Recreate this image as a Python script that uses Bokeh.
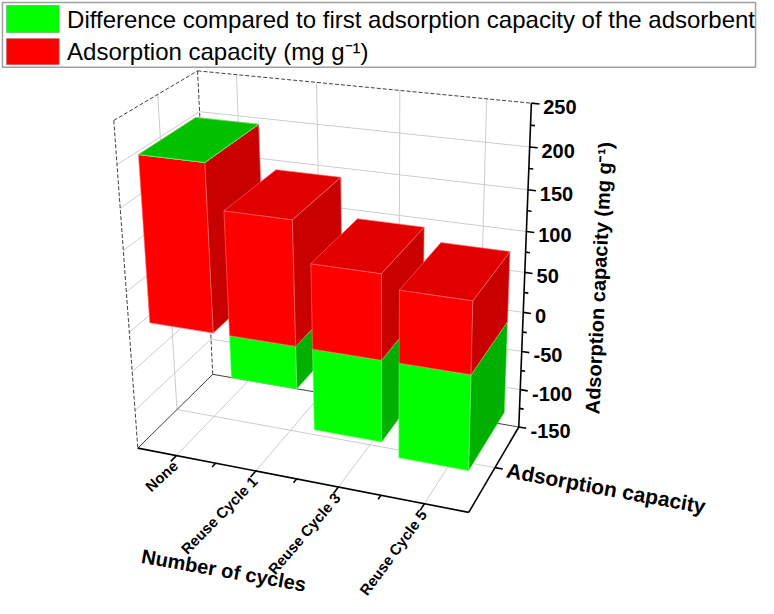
import numpy as np
from bokeh.plotting import figure
from bokeh.models import Range1d
from bokeh.core.properties import value
from bokeh.embed import file_html
from bokeh.resources import INLINE

# ---------------- data ----------------
categories = ["None", "Reuse Cycle 1", "Reuse Cycle 3", "Reuse Cycle 5"]
capacity = [203, 150, 102, 86]            # Adsorption capacity (mg g-1)
difference = [0, -53, -101, -117]         # Difference compared to first adsorption capacity
depth_category = ["Adsorption capacity"]
z_ticks = [-150, -100, -50, 0, 50, 100, 150, 200, 250]
series_names = ["Difference compared to first adsorption capacity of the adsorbent",
                "Adsorption capacity (mg g\u207b\u00b9)"]
x_title = "Number of cycles"
z_title = "Adsorption capacity (mg g\u207b\u00b9)"

# ---------------- 3D frame / camera (layout) ----------------
Z_MIN, Z_MAX = -150, 250
X_MIN, X_MAX = 0.5, len(categories) + 0.5
Y_MIN, Y_MAX = 0.0, 1.0
BAR_W = 0.8
BAR_Y0, BAR_Y1 = 0.15, 0.85

# where the corners of the 3D box land on the page (used to calibrate a perspective camera)
anchors = [
    ((X_MIN, Y_MIN, Z_MIN), (140, 460)),
    ((X_MAX, Y_MIN, Z_MIN), (478, 525)),
    ((X_MAX, Y_MAX, Z_MIN), (530, 437)),
    ((X_MIN, Y_MAX, Z_MIN), (217, 383)),
    ((X_MIN, Y_MIN, Z_MAX), (117, 122)),
    ((X_MIN, Y_MAX, Z_MAX), (200, 73)),
    ((X_MAX, Y_MAX, Z_MAX), (542, 105)),
    ((X_MAX, Y_MAX, 0), (534, 322)),
    ((1, Y_MIN, Z_MIN), (180, 468)),
    ((2, Y_MIN, Z_MIN), (260, 483)),
    ((3, Y_MIN, Z_MIN), (345, 500)),
    ((4, Y_MIN, Z_MIN), (432, 517)),
    ((X_MAX, 0.5, Z_MIN), (505, 479)),
]


def zn(z):
    return (np.asarray(z, float) - Z_MIN) / (Z_MAX - Z_MIN)


rows, rhs = [], []
for (X, Y, Z), (u, v) in anchors:
    Zn = float(zn(Z))
    rows.append([X, Y, Zn, 1, 0, 0, 0, 0, -u * X, -u * Y, -u * Zn]); rhs.append(u)
    rows.append([0, 0, 0, 0, X, Y, Zn, 1, -v * X, -v * Y, -v * Zn]); rhs.append(v)
sol = np.linalg.lstsq(np.array(rows, float), np.array(rhs, float), rcond=None)[0]
P = np.append(sol, 1.0).reshape(3, 4)


def proj(x, y, z):
    x = np.atleast_1d(np.asarray(x, float))
    y = np.atleast_1d(np.asarray(y, float)) * np.ones_like(x)
    z = zn(z) * np.ones_like(x)
    h = P @ np.vstack([x, y, z, np.ones_like(x)])
    return h[0] / h[2], h[1] / h[2]


def seg(p0, p1):
    a = proj(*p0); b = proj(*p1)
    return [float(a[0][0]), float(b[0][0])], [float(a[1][0]), float(b[1][0])]


# ---------------- figure ----------------
p = figure(width=758, height=598, x_range=Range1d(0, 774), y_range=Range1d(614, 0),
           output_backend="svg", toolbar_location=None, min_border=0)
p.axis.visible = False
p.grid.visible = False
p.outline_line_color = None
p.background_fill_color = "white"

FONT = value("Liberation Sans")

# ---- grid lines on walls / floor ----
gx, gy = [], []
for z in z_ticks[1:-1]:
    a, b = seg((X_MIN, Y_MAX, z), (X_MAX, Y_MAX, z)); gx.append(a); gy.append(b)   # back wall
    a, b = seg((X_MIN, Y_MIN, z), (X_MIN, Y_MAX, z)); gx.append(a); gy.append(b)   # left wall
for i in range(1, len(categories) + 1):
    a, b = seg((i, Y_MAX, Z_MIN), (i, Y_MAX, Z_MAX)); gx.append(a); gy.append(b)   # back wall
    a, b = seg((i, Y_MIN, Z_MIN), (i, Y_MAX, Z_MIN)); gx.append(a); gy.append(b)   # floor
a, b = seg((X_MIN, 0.5, Z_MIN), (X_MIN, 0.5, Z_MAX)); gx.append(a); gy.append(b)
a, b = seg((X_MIN, 0.5, Z_MIN), (X_MAX, 0.5, Z_MIN)); gx.append(a); gy.append(b)
p.multi_line(gx, gy, line_color="#CCCCCC", line_width=1)

# ---- frame edges ----
dx_, dy_ = [], []
for e in [((X_MIN, Y_MIN, Z_MAX), (X_MIN, Y_MAX, Z_MAX)),
          ((X_MIN, Y_MAX, Z_MAX), (X_MAX, Y_MAX, Z_MAX)),
          ((X_MIN, Y_MAX, Z_MAX), (X_MIN, Y_MAX, Z_MIN)),
          ((X_MIN, Y_MIN, Z_MAX), (X_MIN, Y_MIN, Z_MIN))]:
    a, b = seg(*e); dx_.append(a); dy_.append(b)
p.multi_line(dx_, dy_, line_color="#404040", line_width=1, line_dash="4 2")
sx_, sy_ = [], []
for e in [((X_MIN, Y_MIN, Z_MIN), (X_MIN, Y_MAX, Z_MIN)),
          ((X_MIN, Y_MAX, Z_MIN), (X_MAX, Y_MAX, Z_MIN))]:
    a, b = seg(*e); sx_.append(a); sy_.append(b)
p.multi_line(sx_, sy_, line_color="#404040", line_width=1)

# ---- bars ----
RED = {"front": "#FF0000", "right": "#C80000", "top": "#E00000", "edge": "#FF7070"}
GREEN = {"front": "#00FF00", "right": "#00B000", "top": "#00C000", "edge": "#70FF70"}


def box_faces(x0, x1, y0, y1, z0, z1):
    F = [(x0, y0, z0), (x1, y0, z0), (x1, y0, z1), (x0, y0, z1)]
    R = [(x1, y0, z0), (x1, y1, z0), (x1, y1, z1), (x1, y0, z1)]
    T = [(x0, y0, z1), (x1, y0, z1), (x1, y1, z1), (x0, y1, z1)]
    out = []
    for name, pts in (("front", F), ("right", R), ("top", T)):
        xs, ys = proj([q[0] for q in pts], [q[1] for q in pts], [q[2] for q in pts])
        out.append((name, list(xs), list(ys)))
    return out


pxs, pys, pfill, pline = [], [], [], []
for i, (cap, dif) in enumerate(zip(capacity, difference)):
    xc = i + 1
    boxes = [(0.0, cap, RED)]
    if dif < 0:
        boxes.append((dif, 0.0, GREEN))
    else:
        boxes.append((cap, cap + dif, GREEN))      # stacked on top (zero height for the first run)
    boxes.sort(key=lambda b: b[0])
    for z0, z1, col in boxes:
        for name, xs, ys in box_faces(xc - BAR_W / 2, xc + BAR_W / 2, BAR_Y0, BAR_Y1, z0, z1):
            pxs.append(xs); pys.append(ys)
            pfill.append(col[name]); pline.append(col["edge"])
p.patches(pxs, pys, fill_color=pfill, line_color=pline, line_width=0.6)

# ---- axes ----
axx, axy = [], []
for e in [((X_MIN, Y_MIN, Z_MIN), (X_MAX, Y_MIN, Z_MIN)),
          ((X_MAX, Y_MIN, Z_MIN), (X_MAX, Y_MAX, Z_MIN)),
          ((X_MAX, Y_MAX, Z_MIN), (X_MAX, Y_MAX, Z_MAX))]:
    a, b = seg(*e); axx.append(a); axy.append(b)
for k in range(len(categories)):
    a, b = seg((k + 1, Y_MIN, Z_MIN), (k + 1, Y_MIN - 0.07, Z_MIN)); axx.append(a); axy.append(b)
for k in range(len(categories) - 1):
    a, b = seg((k + 1.5, Y_MIN, Z_MIN), (k + 1.5, Y_MIN - 0.045, Z_MIN)); axx.append(a); axy.append(b)
a, b = seg((X_MAX, 0.5, Z_MIN), (X_MAX + 0.09, 0.5, Z_MIN)); axx.append(a); axy.append(b)
for z in z_ticks:
    a, b = seg((X_MAX, Y_MAX, z), (X_MAX + 0.09, Y_MAX, z)); axx.append(a); axy.append(b)
for z in z_ticks[:-1]:
    a, b = seg((X_MAX, Y_MAX, z + 25), (X_MAX + 0.05, Y_MAX, z + 25)); axx.append(a); axy.append(b)
p.multi_line(axx, axy, line_color="black", line_width=1.6)

# z tick labels
zx, zy = proj([X_MAX] * len(z_ticks), [Y_MAX] * len(z_ticks), z_ticks)
p.text(x=list(zx + 12), y=list(zy + 4), text=[str(t) for t in z_ticks],
       text_font=FONT, text_font_style="bold", text_font_size="20px",
       text_align="left", text_baseline="middle", text_color="black")

# x tick labels, written along the depth direction of the floor, ending below each tick
lx, ly, la = [], [], []
for k in range(len(categories)):
    x0, y0 = proj(k + 1, Y_MIN, Z_MIN)
    x1, y1 = proj(k + 1, Y_MIN + 0.5, Z_MIN)
    lx.append(float(x0[0]) - 1); ly.append(float(y0[0]) + 8)
    la.append(float(np.arctan2(-(y1[0] - y0[0]), x1[0] - x0[0])) - np.deg2rad(4))
p.text(x=lx, y=ly, text=categories, angle=la,
       text_font=FONT, text_font_style="bold", text_font_size="15px",
       text_align="right", text_baseline="middle", text_color="black")

# axis titles
p.text(x=[228], y=[585], text=[x_title], angle=[np.deg2rad(-10)],
       text_font=FONT, text_font_style="bold", text_font_size="20px",
       text_align="center", text_baseline="middle", text_color="black")
p.text(x=[517], y=[482], text=depth_category, angle=[np.deg2rad(-10.4)],
       text_font=FONT, text_font_style="bold", text_font_size="21px",
       text_align="left", text_baseline="middle", text_color="black")
p.text(x=[611], y=[285], text=[z_title], angle=[np.deg2rad(87.2)],
       text_font=FONT, text_font_style="bold", text_font_size="20px",
       text_align="center", text_baseline="middle", text_color="black")

# ---- legend ----
p.quad(left=[2], right=[771], top=[2], bottom=[68.5], fill_color="white",
       line_color="#A0A0A0", line_width=1.5)
p.quad(left=[6, 6], right=[60, 60], top=[5, 39], bottom=[33, 66],
       fill_color=["#00FF00", "#FF0000"], line_color="#909090", line_width=0.5)
p.text(x=[68, 68], y=[19, 52], text=series_names, text_font=FONT,
       text_font_size="24px", text_align="left", text_baseline="middle", text_color="black")

open("out.html", "w").write(file_html(p, INLINE))
